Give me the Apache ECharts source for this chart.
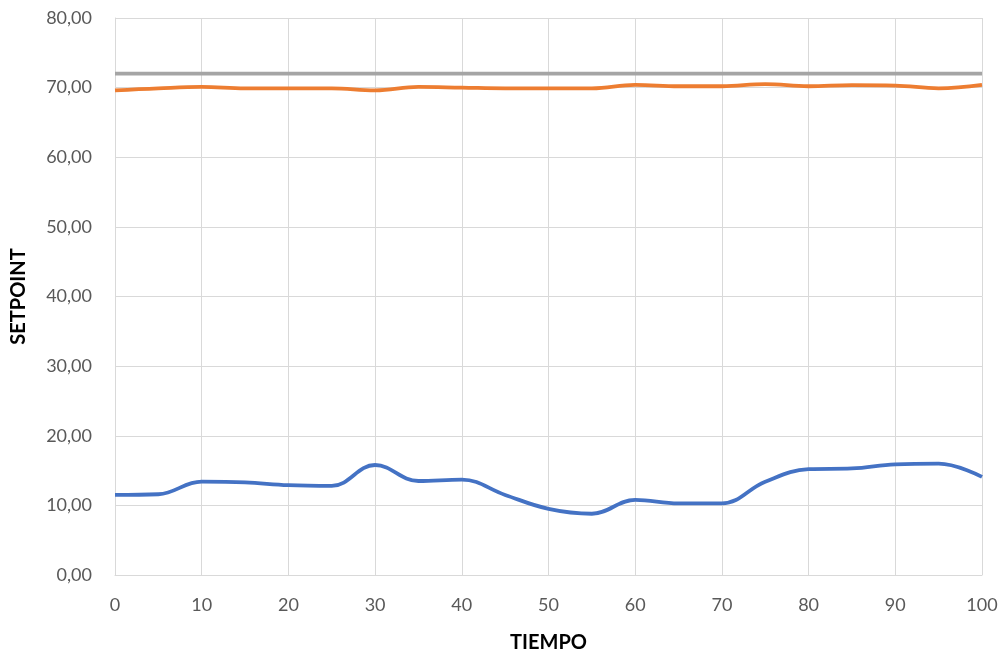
<!DOCTYPE html>
<html>
<head>
<meta charset="utf-8">
<script src="https://cdn.jsdelivr.net/npm/echarts@6/dist/echarts.min.js"></script>
<style>
  html, body { margin: 0; padding: 0; background: #fff; }
  #chart { width: 1006px; height: 651px; }
</style>
</head>
<body>
<div id="chart"></div>
<script>
// Time samples (every 5 units) and the three recorded signals
var tiempo = [0, 5, 10, 15, 20, 25, 30, 35, 40, 45, 50, 55, 60, 65, 70, 75, 80, 85, 90, 95, 100];
var serieAzul = [11.5, 11.6, 13.4, 13.3, 12.9, 12.8, 15.8, 13.5, 13.7, 11.5, 9.5, 8.8, 10.8, 10.3, 10.3, 13.4, 15.2, 15.3, 15.9, 16.0, 14.1];
var serieNaranja = [69.6, 69.9, 70.1, 69.9, 69.9, 69.9, 69.6, 70.1, 70.0, 69.9, 69.9, 69.9, 70.4, 70.2, 70.2, 70.5, 70.2, 70.35, 70.3, 69.9, 70.4];
var serieGris = [72, 72, 72, 72, 72, 72, 72, 72, 72, 72, 72, 72, 72, 72, 72, 72, 72, 72, 72, 72, 72];

function pares(ys) {
  return tiempo.map(function (t, i) { return [t, ys[i]]; });
}

var FONT = 'Lato, "Open Sans", sans-serif';
var GRID = '#d9d9d9';

var chart = echarts.init(document.getElementById('chart'), null, { renderer: 'canvas' });

function linea(nombre, ys, color) {
  return {
    name: nombre,
    type: 'line',
    data: pares(ys),
    smooth: 0.4,
    showSymbol: false,
    symbol: 'none',
    lineStyle: { color: color, width: 3.8 },
    itemStyle: { color: color },
    z: 3
  };
}

chart.setOption({
  animation: false,
  backgroundColor: '#ffffff',
  grid: { left: 115, right: 24, top: 18, bottom: 76, containLabel: false, outerBoundsMode: 'none' },
  xAxis: {
    type: 'value',
    min: 0, max: 100, interval: 10,
    name: 'TIEMPO',
    nameLocation: 'middle',
    nameGap: 58,
    nameTextStyle: { fontFamily: FONT, fontSize: 20, fontWeight: 'bold', color: '#000' },
    axisLine: { show: true, lineStyle: { color: GRID, width: 1 } },
    axisTick: { show: false },
    axisLabel: { fontFamily: FONT, fontSize: 18, color: '#595959', margin: 21 },
    splitLine: { show: true, lineStyle: { color: GRID, width: 1 } }
  },
  yAxis: {
    type: 'value',
    min: 0, max: 80, interval: 10,
    name: 'SETPOINT',
    nameLocation: 'middle',
    nameGap: 86,
    nameRotate: 90,
    nameTextStyle: { fontFamily: FONT, fontSize: 20, fontWeight: 'bold', color: '#000' },
    axisLine: { show: true, lineStyle: { color: GRID, width: 1 } },
    axisTick: { show: false },
    axisLabel: {
      fontFamily: FONT, fontSize: 18, color: '#595959', margin: 23,
      formatter: function (v) { return v.toFixed(2).replace('.', ','); }
    },
    splitLine: { show: true, lineStyle: { color: GRID, width: 1 } }
  },
  series: [
    linea('Gris', serieGris, '#a5a5a5'),
    linea('Naranja', serieNaranja, '#ed7d31'),
    linea('Azul', serieAzul, '#4472c4')
  ]
});
</script>
</body>
</html>
